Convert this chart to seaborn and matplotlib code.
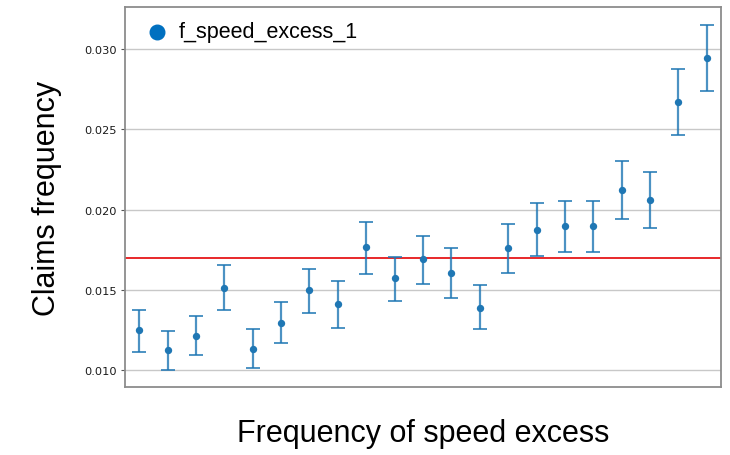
import matplotlib
matplotlib.use("Agg")
import matplotlib.pyplot as plt
import seaborn as sns
import pandas as pd
import numpy as np

# Data
bins = list(range(21))
freq = [0.01249, 0.01125, 0.01212, 0.01511, 0.01131, 0.01295, 0.01497, 0.01413,
        0.01766, 0.01573, 0.01692, 0.01606, 0.01388, 0.01760, 0.01872, 0.01895,
        0.01895, 0.02120, 0.02061, 0.02668, 0.02946]
upper = [0.01374, 0.01243, 0.01336, 0.01654, 0.01255, 0.01426, 0.01629, 0.01553,
         0.01922, 0.01704, 0.01837, 0.01760, 0.01530, 0.01912, 0.02038, 0.02055,
         0.02055, 0.02302, 0.02236, 0.02873, 0.03151]
lower = [0.01112, 0.01000, 0.01093, 0.01374, 0.01012, 0.01170, 0.01355, 0.01264,
         0.01598, 0.01430, 0.01536, 0.01449, 0.01254, 0.01606, 0.01712, 0.01735,
         0.01737, 0.01943, 0.01883, 0.02462, 0.02740]
overall_mean = 0.01697
yticks = [0.010, 0.015, 0.020, 0.025, 0.030]

df = pd.DataFrame({"bin": bins, "freq": freq, "upper": upper, "lower": lower})

sns.set_theme(style="whitegrid")
fig = plt.figure(figsize=(7.3, 4.56), dpi=100)
ax = fig.add_axes([125/730, 1 - 388/456, (721-125)/730, (388-8)/456])

color = "#1f77b4"
yerr = np.vstack([df["freq"] - df["lower"], df["upper"] - df["freq"]])
ax.errorbar(df["bin"], df["freq"], yerr=yerr, fmt="none", ecolor=color,
            elinewidth=1.6, capsize=5, capthick=1.4, alpha=0.8, zorder=3)
sns.scatterplot(data=df, x="bin", y="freq", color=color, s=28, edgecolor=color,
                linewidth=0, ax=ax, zorder=4, legend=False)
ax.axhline(overall_mean, color="#e8282a", lw=1.4, zorder=2)

ax.set_xlim(-0.5, 20.5)
ax.set_ylim(0.00894, 0.03262)
ax.set_yticks(yticks)
ax.set_yticklabels([f"{t:.3f}" for t in yticks], fontsize=8.2, family="DejaVu Sans",
                   color="#1a1a1a")
ax.set_xticks([])
ax.grid(axis="y", color="#c8c8c8", lw=1)
ax.grid(axis="x", visible=False)
ax.tick_params(axis="y", left=True, length=3, width=0.8, color="#555555", pad=3)
for s in ax.spines.values():
    s.set_color("#8c8c8c")
    s.set_linewidth(1.3)

ax.set_ylabel("Claims frequency", fontsize=22, family="Liberation Sans", labelpad=16,
              color="black")
ax.set_xlabel("Frequency of speed excess", fontsize=22, family="Liberation Sans",
              labelpad=22, color="black")

h = ax.scatter([], [], color="#0070c0", s=110, label="f_speed_excess_1")
leg = ax.legend(handles=[h], loc="upper left", bbox_to_anchor=(0.003, 0.985),
                frameon=False, prop={"family": "Liberation Sans", "size": 15.5},
                handletextpad=0.0, borderaxespad=0.0, labelcolor="black")

fig.savefig("out.png", dpi=100)
